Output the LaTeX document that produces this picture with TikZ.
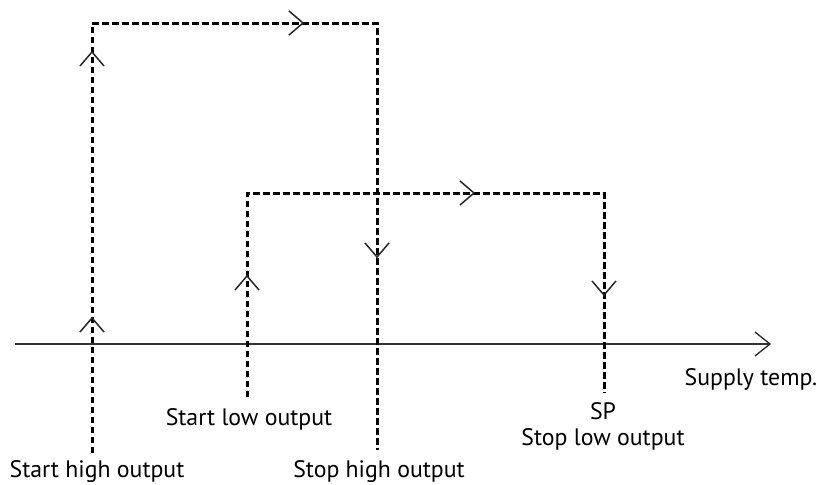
\documentclass[tikz,border=0pt]{standalone}
\usepackage{fontspec}
\setmainfont{PT Sans}
\usetikzlibrary{decorations.markings}
\tikzset{
  dline/.style={line width=3pt, dash pattern=on 6.5pt off 3.5pt, draw=black},
  axisline/.style={line width=1.3pt, draw=black!80},
  chev/.style={solid, line width=1.5pt, draw=black!85},
  lbl/.style={font=\fontsize{23.8}{26}\selectfont, anchor=base, inner sep=0pt, text=black},
  chevat/.style={postaction={decorate, decoration={markings,
     mark=at position #1 with {\draw[chev] (-14,-12) -- (0,0) -- (-14,12);}}}}
}
\begin{document}
\begin{tikzpicture}[x=1pt,y=-1pt]
\useasboundingbox (0,0) rectangle (820,485);
% axis
\coordinate (ax0) at (15,344);
\coordinate (ax1) at (770,344);
\draw[axisline] (ax0) -- (ax1);
\draw[chev,line width=1.3pt] (755,332) -- (ax1) -- (755,356);
% labels
\node[lbl] (supply) at (751,385) {Supply temp.};
\node[lbl] (sh) at (97,477) {Start high output};
\node[lbl] (sth) at (379,477) {Stop high output};
\node[lbl] (sl) at (249,425) {Start low output};
\node[lbl] (sp) at (603,419) {SP};
\node[lbl] (stl) at (603,445) {Stop low output};
% high loop
\coordinate (h0) at (92,453);
\coordinate (h1) at (92,23);
\coordinate (h2) at (377,23);
\coordinate (h3) at (377,450);
\draw[dline, chevat=135pt, chevat=401pt, chevat=641pt, chevat=949pt]
  (h0) -- (h1) -- (h2) -- (h3);
% low loop
\coordinate (l0) at (247,397);
\coordinate (l1) at (247,193);
\coordinate (l2) at (604,193);
\coordinate (l3) at (604,393);
\draw[dline, chevat=121pt, chevat=431pt, chevat=663pt]
  (l0) -- (l1) -- (l2) -- (l3);
\end{tikzpicture}
\end{document}
